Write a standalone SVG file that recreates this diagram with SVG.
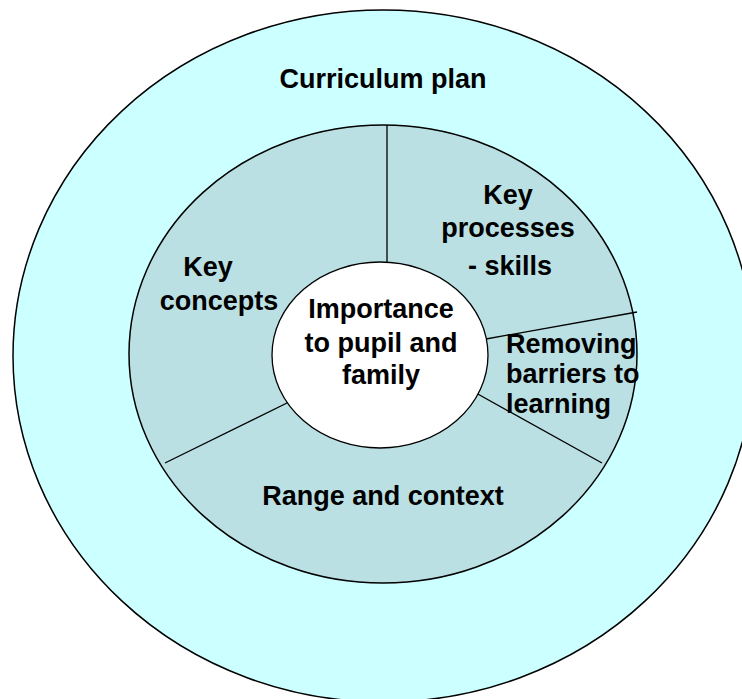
<svg xmlns="http://www.w3.org/2000/svg" width="742" height="699" viewBox="0 0 742 699">
<style>
.lbl{font-family:"Liberation Sans",Arial,sans-serif;font-weight:bold;font-size:27px;fill:#000}
.ln{stroke:#000;stroke-width:1.3;fill:none}
</style>
<rect width="742" height="699" fill="#fff"/>
<g id="curriculum-plan">
<ellipse cx="383.5" cy="356" rx="370.5" ry="346" fill="#CCFFFF" stroke="#000" stroke-width="1.5"/>
<text class="lbl" x="383" y="88" text-anchor="middle">Curriculum plan</text>
</g>
<g id="ring">
<ellipse cx="383" cy="354" rx="254" ry="229" fill="#BBE0E3" stroke="#000" stroke-width="1.5"/>
</g>
<g id="connectors">
<line class="ln" x1="387" y1="125" x2="387" y2="262"/>
<line class="ln" x1="486" y1="339" x2="637" y2="312"/>
<line class="ln" x1="476" y1="393" x2="602" y2="463"/>
<line class="ln" x1="289" y1="402" x2="165" y2="463"/>
</g>
<g id="key-concepts">
<text class="lbl" x="208" y="276" text-anchor="middle">Key</text>
<text class="lbl" x="219" y="310" text-anchor="middle">concepts</text>
</g>
<g id="key-processes">
<text class="lbl" x="508" y="204" text-anchor="middle">Key</text>
<text class="lbl" x="508" y="237" text-anchor="middle">processes</text>
<text class="lbl" x="510" y="275" text-anchor="middle">- skills</text>
</g>
<g id="removing-barriers">
<text class="lbl" x="506" y="353" font-size="26">Removing</text>
<text class="lbl" x="506" y="383" font-size="26">barriers to</text>
<text class="lbl" x="506" y="413" font-size="26">learning</text>
</g>
<g id="range-context">
<text class="lbl" x="383" y="505" text-anchor="middle">Range and context</text>
</g>
<g id="importance">
<ellipse cx="380" cy="355" rx="108" ry="93" fill="#fff" stroke="#000" stroke-width="1.3"/>
<text class="lbl" x="381" y="318" text-anchor="middle">Importance</text>
<text class="lbl" x="381" y="352" text-anchor="middle">to pupil and</text>
<text class="lbl" x="381" y="384" text-anchor="middle">family</text>
</g>
</svg>
